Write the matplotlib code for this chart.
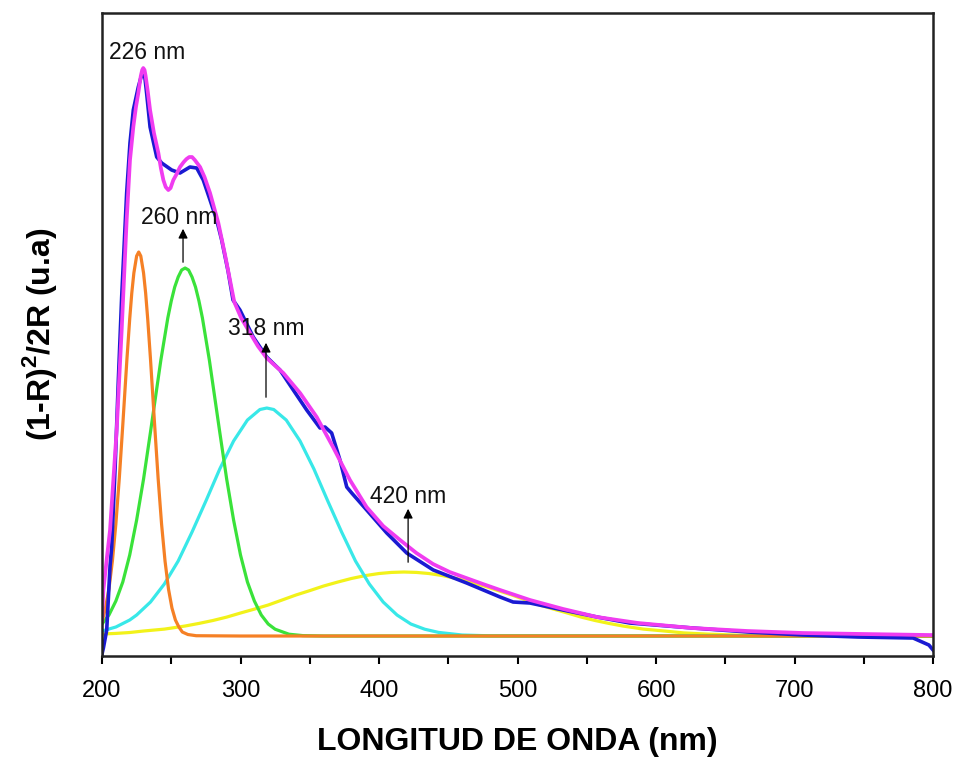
import matplotlib
matplotlib.use("Agg")
import matplotlib.pyplot as plt
from matplotlib.ticker import MultipleLocator

plt.rcParams['font.family'] = ['Liberation Sans', 'DejaVu Sans']
plt.rcParams['mathtext.fontset'] = 'custom'
plt.rcParams['mathtext.rm'] = 'Liberation Sans'
plt.rcParams['mathtext.bf'] = 'Liberation Sans:bold'

# Measured spectrum (blue)
blue_x = [200, 201, 203.4, 205.8, 207, 209.5, 211.8, 214.2, 217.8, 220.2, 222.6, 226.2, 228, 229.8, 231,
          232.2, 234.7, 239.5, 243.1, 250.3, 256.3, 263.5, 268.4, 273.1, 278, 282.8, 286.4, 291, 294.6,
          299.6, 309.2, 318.9, 328.5, 338.1, 347.8, 357.4, 361, 365.8, 371.8, 376.7, 380.3, 391.1, 405.6,
          420, 439.2, 463.3, 487.4, 496.8, 509, 532.9, 557.4, 581, 626.7, 666.4, 706, 745.8, 785.6, 797, 800]
blue_y = [2, 8, 26, 90, 109, 190, 276, 359, 463, 513, 546, 569, 578, 583, 578,
          563, 529, 499, 493, 486, 483, 489, 488, 476, 456, 436, 416, 385, 356,
          346, 319, 299, 286, 266, 246, 228, 229, 223, 196, 169, 163, 146, 123,
          103, 86, 73, 59, 54, 53, 46, 39, 33, 28, 24, 21, 19, 18, 11, 6]

# Cumulative fit (magenta)
fit_x = [200, 201, 203.5, 205.8, 208, 210.6, 214.2, 217.8, 220.2, 222.6, 224.5, 226.2, 228, 229, 229.8,
         230.7, 231.5, 233, 234.7, 237.5, 240.7, 242.5, 244.3, 246, 247.9, 249.5, 251.5, 253.5, 256.3,
         259, 261, 263, 265, 267, 270.8, 274, 278, 284, 289, 295.5, 300.5, 306.9, 312.5, 318.9, 324.5,
         330.9, 343, 355, 366.8, 379, 391, 403, 415.2, 427, 439, 451, 463, 475, 487.4, 509, 533, 557.4,
         587, 626, 666, 706, 750, 797, 800]
fit_y = [36, 66, 98, 126, 172, 226, 326, 436, 496, 529, 549, 563, 580, 586, 588,
         586, 580, 565, 546, 523, 503, 488, 476, 469, 466, 468, 476, 481, 489,
         494, 497, 499, 499, 496, 489, 479, 463, 433, 400, 354, 338, 323, 310, 298, 291,
         283, 263, 239, 209, 176, 149, 130, 116, 103, 92, 84, 78, 72, 66, 56, 47, 39,
         33, 28, 25, 23, 22, 21, 21]

# Component peaks
p226_x = [200, 202.5, 205, 207.5, 210, 212.5, 215, 218, 220, 221.5, 223, 225, 226.5, 228, 230,
          231.5, 233, 235, 238, 240.5, 243, 245.5, 248, 250.5, 253, 255.5, 258, 262, 268, 300, 800]
p226_y = [34, 48, 67, 95, 132, 178, 231, 297, 337, 363, 383, 400, 404, 400, 383,
          363, 337, 297, 231, 178, 132, 95, 67, 48, 36, 29, 24, 21.5, 20.3, 20, 20]

p260_x = [200, 205, 210, 215, 220, 225, 230, 235, 240, 242.5, 245, 247.5, 250, 252.5, 255, 257.5,
          260, 262.5, 265, 267.5, 270, 272.5, 275, 277.5, 280, 285, 290, 295, 300, 305, 310, 315,
          320, 325, 335, 345, 360, 800]
p260_y = [32, 41, 55, 74, 101, 136, 177, 224, 272, 296, 317, 338, 355, 369, 379, 386,
          388, 386, 379, 369, 355, 338, 317, 296, 272, 224, 177, 136, 101, 74, 55, 41,
          32, 26.8, 21.8, 20.4, 20, 20]

p318_x = [200, 210, 220, 225, 235, 245, 255, 265, 275, 285, 295, 305, 314, 319, 324, 333, 343,
          353, 363, 373, 383, 393, 403, 413, 423, 433, 443, 460, 480, 800]
p318_y = [25, 29, 36, 41, 54, 72, 95, 124, 155, 187, 215, 236, 246.5, 248, 246.5, 236, 215,
          187, 155, 124, 95, 72, 54, 41, 32, 26.8, 23.6, 21, 20.2, 20]

p420_x = [200, 210, 220, 230, 245, 260, 270, 280, 290, 300, 310, 320, 330, 340, 350, 360, 370,
          380, 390, 400, 409, 418, 427, 436, 446, 456, 466, 476, 486, 496, 506, 516, 526, 536,
          546, 556, 566, 576, 591, 606, 620, 636, 660, 680, 800]
p420_y = [22, 22.6, 23.5, 25, 26.9, 30, 32.6, 35.5, 38.9, 43, 46.9, 51, 56, 61, 65.4, 70, 73.9,
          77.5, 80.4, 82.5, 83.6, 84, 83.6, 82.5, 80.4, 77.5, 73.9, 70, 65.4, 61, 56, 51, 46.9, 43,
          38.9, 35.5, 32.6, 30, 26.9, 25, 23.1, 22, 20.8, 20.4, 20]

# Annotations
labels = ["226 nm", "260 nm", "318 nm", "420 nm"]
label_x = [232.5, 256, 318.4, 421]
label_y = [604, 439, 328, 160]
arrow_x = [None, 258.5, 318.4, 421]
arrow_y0 = [None, 391, 256, 91]
arrow_y1 = [None, 430, 316, 150]

fig = plt.figure(figsize=(9.56, 7.57), dpi=100)
ax = fig.add_axes([0.1067, 0.1334, 0.8693, 0.8494])

lw = 2.3
ax.plot(p420_x, p420_y, color='#f2f21a', lw=lw)
ax.plot(p318_x, p318_y, color='#38e8e8', lw=lw)
ax.plot(p260_x, p260_y, color='#3ae23a', lw=lw)
ax.plot(p226_x, p226_y, color='#f58025', lw=lw)
ax.plot(blue_x, blue_y, color='#1a1ad2', lw=2.6)
ax.plot(fit_x, fit_y, color='#f03cf0', lw=2.7)

for i, t in enumerate(labels):
    ax.text(label_x[i], label_y[i], t, ha='center', va='center', fontsize=16.5, color='#111111')
    if arrow_x[i] is not None:
        ax.annotate('', xy=(arrow_x[i], arrow_y1[i]), xytext=(arrow_x[i], arrow_y0[i]),
                    arrowprops=dict(arrowstyle='-|>', lw=0.9, color='black', mutation_scale=14))

ax.set_xlim(200, 800)
ax.set_ylim(0, 643)
ax.xaxis.set_major_locator(MultipleLocator(100))
ax.xaxis.set_minor_locator(MultipleLocator(50))
ax.set_yticks([])
ax.tick_params(axis='x', which='both', direction='out', length=6, width=1.5, pad=11,
               labelsize=17, top=False)
for s in ax.spines.values():
    s.set_linewidth(1.8)
    s.set_color('#222222')

ax.set_xlabel('LONGITUD DE ONDA (nm)', fontsize=23, fontweight='bold', labelpad=18)
ax.set_ylabel(r'(1-R)$^{\mathbf{2}}$/2R (u.a)', fontsize=23, fontweight='bold', labelpad=31)

fig.savefig('out.png', dpi=100)
